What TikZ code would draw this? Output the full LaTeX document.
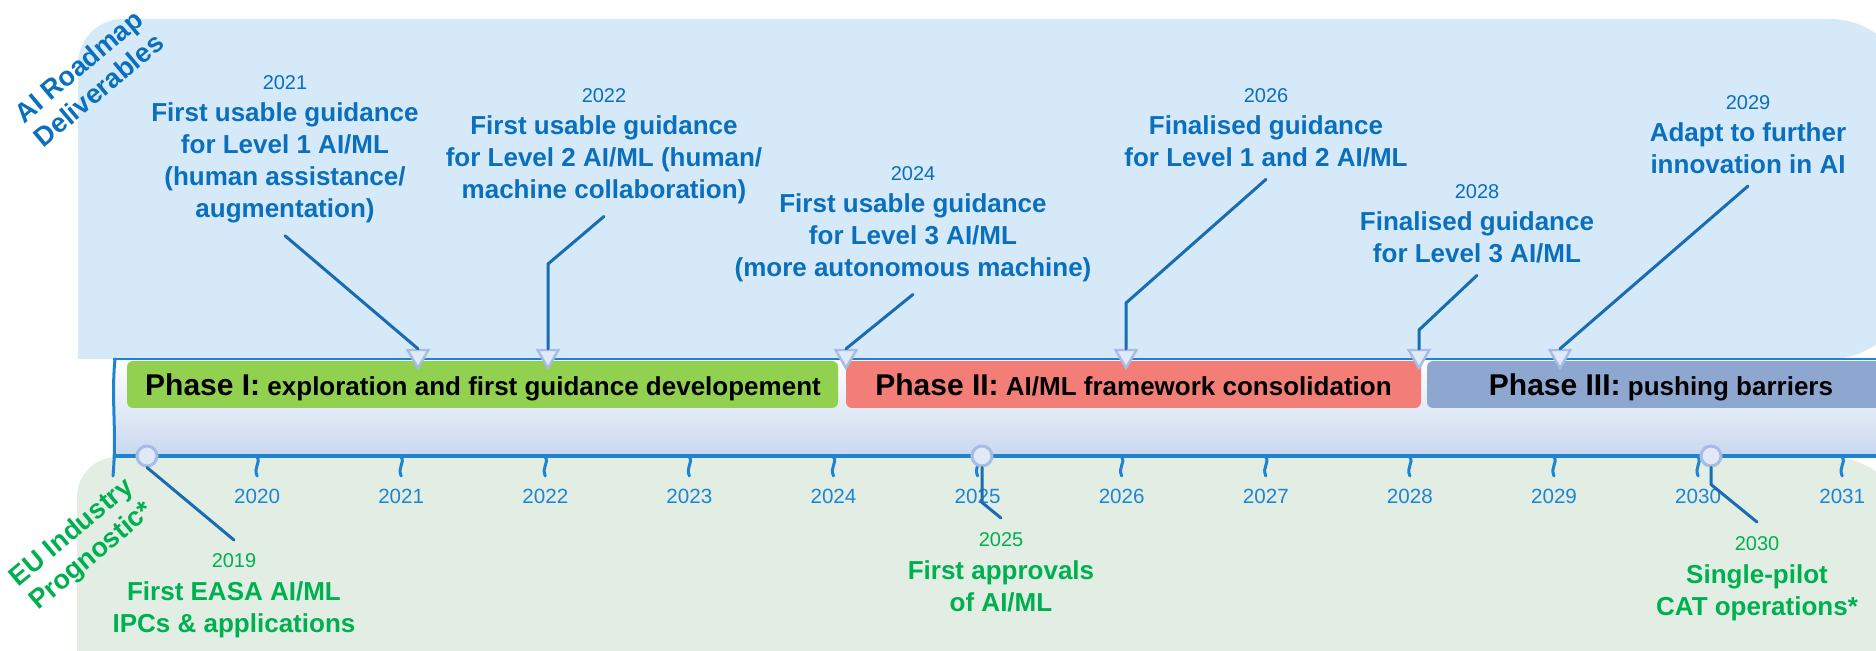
\documentclass[tikz,border=0pt]{standalone}
\usepackage{fontspec}
\setmainfont{Liberation Sans}
\usetikzlibrary{positioning,shapes.geometric}
\definecolor{roadblue}{HTML}{D5E9F8}
\definecolor{prognogreen}{HTML}{E2EEE4}
\definecolor{barlav}{HTML}{C9D8EF}
\definecolor{delivblue}{HTML}{0A6FBD}
\definecolor{axisblue}{HTML}{1E84D2}
\definecolor{leadblue}{HTML}{1A6CB2}
\definecolor{progreen}{HTML}{00B050}
\definecolor{phaseone}{HTML}{92D050}
\definecolor{phasetwo}{HTML}{F37E78}
\definecolor{phasethree}{HTML}{8EA7D0}
\definecolor{markfill}{HTML}{E1E8F6}
\definecolor{markline}{HTML}{A6BCE5}

\begin{document}
\begin{tikzpicture}[x=0.5pt, y=-0.5pt,
  deliv/.style={text=delivblue, font=\bfseries\fontsize{13}{16.1}\selectfont, align=center, inner sep=0pt},
  delivyear/.style={text=delivblue, font=\fontsize{10}{12}\selectfont, inner sep=0pt},
  progn/.style={text=progreen, font=\bfseries\fontsize{13}{16}\selectfont, align=center, inner sep=0pt},
  prognyear/.style={text=progreen, font=\fontsize{10}{12}\selectfont, inner sep=0pt},
  lead/.style={leadblue, line width=1.5pt, line cap=round, line join=round},
  delivtip/.style={regular polygon, regular polygon sides=3, shape border rotate=180, fill=markfill, draw=markline, line width=1.2pt, minimum size=12pt, inner sep=0pt},
  milestone/.style={circle, fill=markfill, draw=markline, line width=1.5pt, minimum size=10pt, inner sep=0pt},
  phase/.style={font=\bfseries\fontsize{13}{16}\selectfont, anchor=base, inner sep=0pt},
  axislbl/.style={text=axisblue, font=\fontsize{10.3}{12}\selectfont, inner sep=0pt},
  sidelbl/.style={font=\bfseries\fontsize{13.5}{15.5}\selectfont, align=center, rotate=40, inner sep=0pt}]
\useasboundingbox (0,0) rectangle (1876,651);
\clip (0,0) rectangle (1876,651);
% Background panels
\fill[roadblue] (78,359) -- (78,64) arc[start angle=180, end angle=270, radius=45] -- (1830,19) arc[start angle=270, end angle=360, radius=80] -- (1910,279) arc[start angle=0, end angle=90, radius=80] -- cycle;
\fill[prognogreen] (77,660) -- (77,497) arc[start angle=180, end angle=270, radius=40] -- (1830,457) arc[start angle=270, end angle=360, radius=80] -- (1910,660) -- cycle;
% Timeline bar
\shade[top color=white, middle color=barlav!70, bottom color=barlav] (113,359) rectangle (1880,456);
\fill[phaseone, rounded corners=3pt] (127,361) rectangle (838,408);
\fill[phasetwo, rounded corners=3pt] (846,361) rectangle (1421,408);
\fill[phasethree, rounded corners=3pt] (1427,361) rectangle (1900,408);
\node[phase] (ph1) at (483,396) {{\fontsize{15}{18}\selectfont Phase I:} exploration and first guidance developement};
\node[phase] (ph2) at (1133.5,396) {{\fontsize{15}{18}\selectfont Phase II:} AI/ML framework consolidation};
\node[phase] (ph3) at (1661,396) {{\fontsize{15}{18}\selectfont Phase III:} pushing barriers};
\draw[axisblue, line width=0.8pt] (113,359) -- (1880,359);
\draw[axisblue, line width=2pt] (113,456) -- (1880,456);
\draw[axisblue, line width=1.5pt, line cap=round] (115,359) .. controls (111,400) and (117,430) .. (113,476);
% Years
\foreach \yr in {2020,...,2031} {
  \pgfmathsetmacro\xx{113+144.1*(\yr-2019)}
  \draw[axisblue, line width=1.5pt, line cap=round] (\xx,457) .. controls (\xx+4,463) and (\xx-4,467) .. (\xx,476);
  \node[axislbl] (yr\yr) at (\xx,496) {\yr};
}
% Side labels
\node[sidelbl, text=delivblue] (rm) at (88.5,78) {AI Roadmap\\Deliverables};
\node[sidelbl, text=progreen] (eu) at (82,545) {EU Industry\\Prognostic*};
% Deliverables
\node[deliv, anchor=north] (d21) at (285,102) {First usable guidance\\for Level 1 AI/ML\\(human assistance/\\augmentation)};
\node[delivyear, above=6pt of d21] (y21) {2021};
\node[deliv, anchor=north] (d22) at (604,115) {First usable guidance\\for Level 2 AI/ML (human/\\machine collaboration)};
\node[delivyear, above=6pt of d22] (y22) {2022};
\node[deliv, anchor=north] (d24) at (913,193) {First usable guidance\\for Level 3 AI/ML\\(more autonomous machine)};
\node[delivyear, above=6pt of d24] (y24) {2024};
\node[deliv, anchor=north] (d26) at (1266,115) {Finalised guidance\\for Level 1 and 2 AI/ML};
\node[delivyear, above=6pt of d26] (y26) {2026};
\node[deliv, anchor=north] (d28) at (1477,211) {Finalised guidance\\for Level 3 AI/ML};
\node[delivyear, above=6pt of d28] (y28) {2028};
\node[deliv, anchor=north] (d29) at (1748,122) {Adapt to further\\innovation in AI};
\node[delivyear, above=6pt of d29] (y29) {2029};
% Industry milestones
\node[progn, anchor=north] (g19) at (234,581) {First EASA AI/ML\\IPCs \& applications};
\node[prognyear, above=6.5pt of g19] (y19) {2019};
\node[progn, anchor=north] (g25) at (1001,560) {First approvals\\of AI/ML};
\node[prognyear, above=6.5pt of g25] (y25) {2025};
\node[progn, anchor=north] (g30) at (1757,564) {Single-pilot\\CAT operations*};
\node[prognyear, above=6.5pt of g30] (y30) {2030};
% Markers
\node[delivtip] (t21) at (418,356) {};
\node[delivtip] (t22) at (548,356) {};
\node[delivtip] (t24) at (846,356) {};
\node[delivtip] (t26) at (1126,356) {};
\node[delivtip] (t28) at (1419,356) {};
\node[delivtip] (t29) at (1560,356) {};
\node[milestone] (c19) at (147,456) {};
\node[milestone] (c25) at (982,456) {};
\node[milestone] (c30) at (1711,456) {};
% Leaders
\draw[lead] ([yshift=-6pt]d21.south) -- (t21.north);
\draw[lead] ([yshift=-6pt]d22.south) -- (t22.north |- 0,264) -- (t22.north);
\draw[lead] ([yshift=-6pt]d24.south) -- (t24.north);
\draw[lead] ([yshift=-6pt]d26.south) -- (t26.north |- 0,303) -- (t26.north);
\draw[lead] ([yshift=-6pt]d28.south) -- (t28.north |- 0,330) -- (t28.north);
\draw[lead] ([yshift=-6pt]d29.south) -- (t29.north);
\draw[lead] (c19.south) -- ([yshift=6.5pt]y19.north);
\draw[lead] (c25.south) -- ++(0,35) -- ([yshift=7pt]y25.north);
\draw[lead] (c30.south) -- ++(0,17) -- ([yshift=7pt]y30.north);
\end{tikzpicture}
\end{document}
